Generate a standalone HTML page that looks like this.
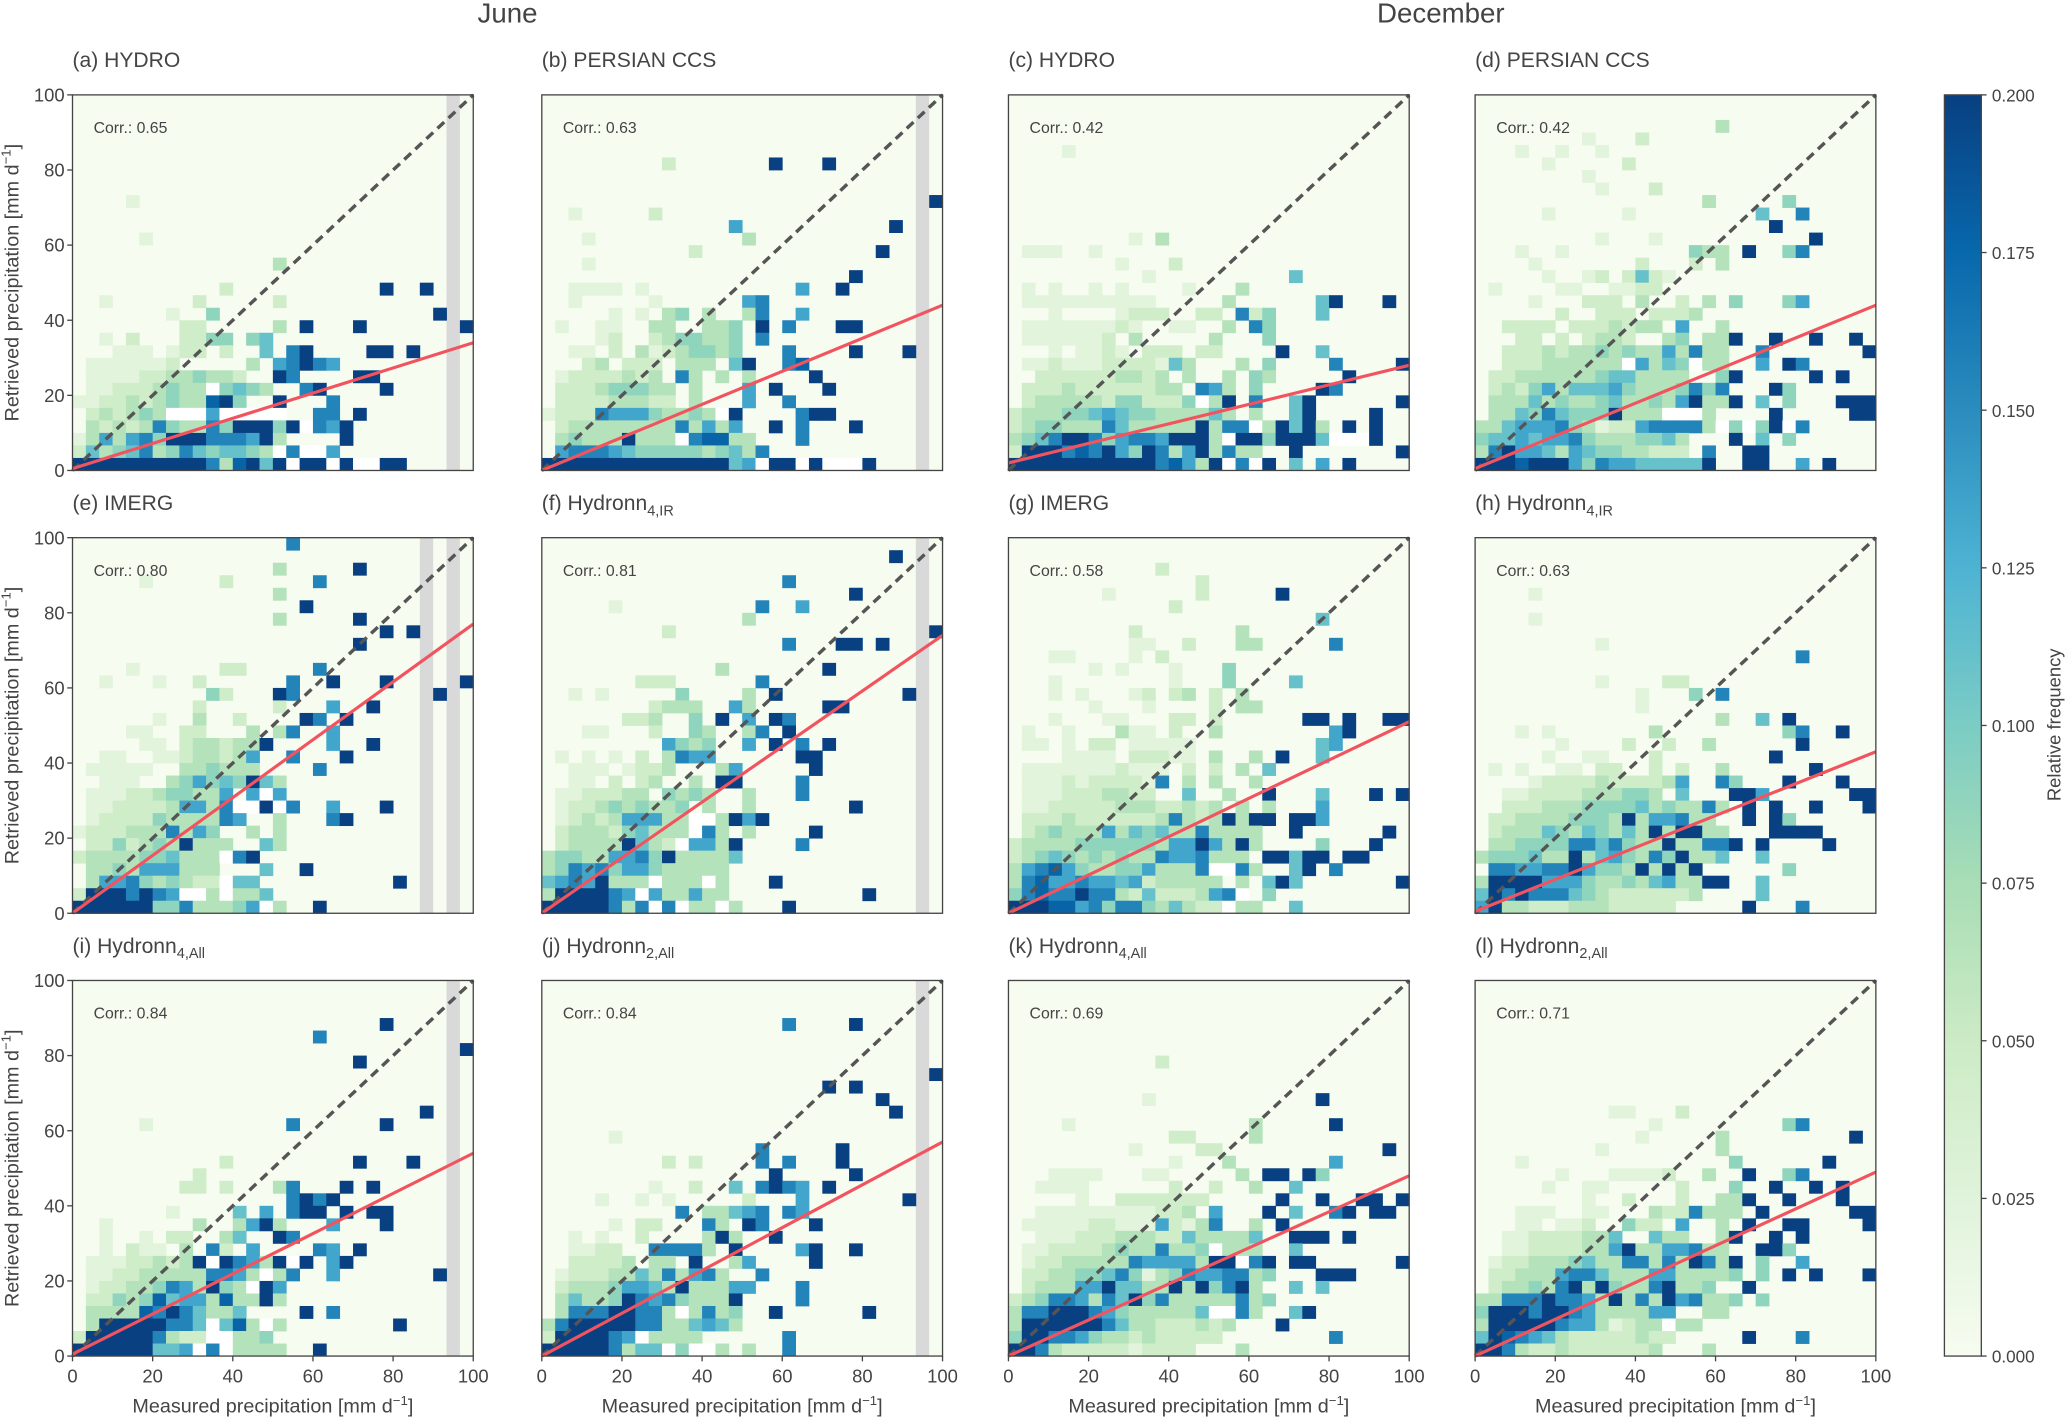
<!DOCTYPE html>
<html><head><meta charset="utf-8"><title>Precipitation retrieval comparison</title>
<style>
html,body{margin:0;padding:0;background:#fff;}
svg{display:block;}
text{font-family:"Liberation Sans Narrow","Liberation Sans",sans-serif;fill:#444;}
</style></head>
<body>
<svg id="fig" width="2067" height="1418" viewBox="0 0 1568 1076" preserveAspectRatio="none" xmlns="http://www.w3.org/2000/svg">
<defs>
<linearGradient id="cbgrad" x1="0" y1="1" x2="0" y2="0">
<stop offset="0" stop-color="#f7fcf0"/><stop offset="0.125" stop-color="#e0f3db"/><stop offset="0.25" stop-color="#ccebc5"/><stop offset="0.375" stop-color="#a8ddb5"/><stop offset="0.5" stop-color="#7bccc4"/><stop offset="0.625" stop-color="#4eb3d3"/><stop offset="0.75" stop-color="#2b8cbe"/><stop offset="0.875" stop-color="#0868ac"/><stop offset="1" stop-color="#084081"/>
</linearGradient>
</defs>
<text x="385" y="17" font-size="21" text-anchor="middle">June</text>
<text x="1093" y="17" font-size="21" text-anchor="middle">December</text>
</svg>
<script>
// ---- data ----
const panelTitles = ["(a) HYDRO","(b) PERSIAN CCS","(c) HYDRO","(d) PERSIAN CCS","(e) IMERG","(f) Hydronn","(g) IMERG","(h) Hydronn","(i) Hydronn","(j) Hydronn","(k) Hydronn","(l) Hydronn"];
const panelSubs = ["","","","","","4,IR","","4,IR","4,All","2,All","4,All","2,All"];
const corrValues = ["0.65","0.63","0.42","0.42","0.80","0.81","0.58","0.63","0.84","0.84","0.69","0.71"];
const fitIntercepts = [0.5,0,2,0.5,0,0,0,0.5,0.5,0,0,0];
const fitAt100 = [34,44,28,44,77,74,51,43,54,57,48,49];
const greyCols = [[28],[28],[],[],[26,28],[28],[],[],[28],[28],[],[]];
const axisTicks = [0,20,40,60,80,100];
const cbTicks = [0,0.025,0.05,0.075,0.1,0.125,0.15,0.175,0.2];
const cbTickLabels = ["0.000","0.025","0.050","0.075","0.100","0.125","0.150","0.175","0.200"];
const levelMax = 9;
const freqMax = 0.2;

const cellsA = ["8:4:1","11:5:1","13:15:3","15:11:2","15:23:9","15:26:9","16:2:1","16:9:2","16:15:2","17:7:1","17:10:4","17:27:9","18:8:22","18:15:3.9","18:21:9","18:29:9","19:2:1.2...2244.45","20:3:111.122.2..5.79","20:22:99.9","21:1:1111112.....3.67976","22:1:111122334332..97","22:21:99","23:0:.112223433w4543..79","23:23:9","24:0:1122323433894..9...7","25:0:.232343www6wwwww..77","25:21:9","26:0:.3232374337499949w769","27:0:1363674999777693","27:20:9","28:0:253457347545543w7ww6","29:0:9999999999738959w99w9ww99"];
const cellsB = ["5:9:2","5:17:9","5:21:9","8:29:9","9:2:1","9:8:2","10:14:6","10:26:9","11:3:1","11:15:3","12:11:2","12:25:9","13:3:1","14:23:9","15:2:1111.1","15:19:6","15:22:9","16:2:1.....1","16:15:67","17:5:1.1.34.3..37..6","18:1:1..11..33..334.9.7...99","19:4:12..2344334.7","20:2:11.2.31234434...7....9...9","21:3:23.222.333.59..78","22:1:12222323.73.3.3....9","23:1:222344433.3...6.9...9","24:1:222233322.3...6..7","25:0:1222766643343w9....799","26:1:233333333736 36..9.7...9".replace(" ",""),"27:1:343339333w78833...7","28:1:6777654444434537","29:0:9999999999999956w99w9www9"];
const cellsC = ["4:4:1","11:9:1.3","12:1:111..1","13:8:1...2","14:10:1","14:21:5","15:1:1.1..1.1....1...3","16:1:1111111111.....3......59...9","17:3:1....1222..22.724...5","18:1:111111121..11..3.74","19:1:1111112.3.....3...4","20:3:1.1121.222.22....9..5","21:1:1121112222153...3.4....7....9","22:2:2222223323.3..3.43.....9","23:1:222322222233.763.4....97","24:1:2333332442224w39.7..59......9","25:0:23334456544333353.3..59....9","26:0:234433375333339377w39593.9.9","27:0:3457997467769993w9949995www9","28:0:2999787964973693733..9","28:29:9","29:0:9999999999978639w7w9.5.6.9"];
const cellsD = ["2:18:3","3:8:1...2","4:3:1..1..1","5:5:1.....2","6:8:1","7:9:1...2","8:17:3.....4","9:5:1.....1.........5..7","10:22:9","11:9:1...1...........9","12:3:1..1.........433.9..47","13:4:1.......2...2.3","14:5:1..12.2521","15:1:1....11..1122","16:4:1...222.3..2.3.4...46","17:6:2..222.2223","18:2:2222.2223233.6..3","19:3:22.2.2332..34.339..9..9..9","20:2:22232334343363733..7.......9","21:2:222333333w6354w33..6.97","22:1:223333334553333..49.....9.9","23:1:232463555643334747...94","24:1:3335343345334369339.5.4...999","25:1:3354754449333www3....9.....99","26:0:335666743122677773w4w49w7","27:0:4556566743334453...9.5.4","28:0:3796653654433222.7..99","29:0:999899964766555559..99..6.9"];
const cellsE = ["0:16:7","2:15:3.....9","3:5:1.....2......7","4:15:3","5:17:9","6:15:3.....9","7:23:9.9","8:21:9","10:4:1......22.....7","11:2:1...1..2......7..9...9.....9","12:10:42...97..........9","13:9:2.....2...6..9","14:6:1..3..2....97.9","15:4:11..22...3.37..6","16:5:11.2332339....6..9","17:2:11..11233236..7...9","18:1:11111..334333....7","19:2:111..346454953","20:1:11122344336.6w6","21:1:11222236637ww9w7..6...9","22:1:122224333376..3...79","23:0:12223337364..3.3","24:1:22423439333..53","25:0:23333445333w79","26:1:3343666333...5..9","27:1:3667434322w55..........9","28:0:29997976ww3w335","29:0:99999944733346w3..9"];
const cellsF = ["1:26:9","3:18:7","4:23:9","5:5:1..........7..6","6:15:3","7:9:2...................9","8:18:7...99.9","10:13:3.......9","11:7:222......7","12:2:1.1.....4....3.9.........9","13:8:2333..63.....99","14:6:223..4.9.6.97","15:3:11...2..43..37.9","16:9:6434..6.9.7.9","17:1:1.1.1.2.3766......99","18:2:111.1223...36.....9","19:2:11.2.23..3.99....7","20:1:1122233.4343..3...7","21:1:1223434334.3..3.......9","22:1:1232366633ww3969","23:1:2333245333w73.3....9","24:1:233339532w6639....7","25:0:344336674933335","26:0:34767466433333","27:0:56769333w333w3...9","28:0:3999976w633633","28:24:9","29:0:99999737w7w33w3...9"];
const cellsG = ["2:11:2","3:14:2","4:7:1......2.....9","5:12:2","6:23:5","7:9:2.......3","8:9:11..2...33.....7","9:3:11....1.2","10:6:1.1...1...4","11:3:1........1...4....5","12:3:1.1...12.23.2.3","13:6:1...1....2.33","14:3:1...11...22.2......99.9..99","15:1:1..1...311.2..3........69","16:1:11.1.22.11111.........56","17:4:1111.22211.3..3.9..5","18:1:11111112111.2.2.3.5","19:1:11121222217.3.3..3","20:1:1112223322..5..3..9...5...9.9","21:1:112222233322323.3.3...6","22:1:2223222222373239399.996","23:1:234333635453373333..9......9","24:0:2333344444436696393....4...9","25:0:234543434337667333.99599.99","26:0:367864334463337ww73..59.7","27:0:3786676656233333.3.595.......9","28:0:47877977325222367w.4","29:0:9998867477435322w33..5"];
const cellsH = ["4:4:1","6:4:1","8:9:1","9:24:7","11:9:1....22","12:12:1...4.7","13:12:1","14:18:3..5.9","15:3:1.1.......3.........47..9","16:6:1....2..2..3......9","17:5:1..11...2........9","18:1:1.1..11.22..2.2..3......9","19:4:122223222236..74...9...9","20:2:112222333443.5...996......99","21:2:22233344445343373.9.9..9...9","22:1:22333344439366733..9.94","23:1:233354354353939933...9999","24:1:3344447757433933779.9....9","25:0:3444533935643749335..5","26:1:7766779644393939......4","27:0:3999966643343563399..5","28:0:59797775432222223....5","29:0:693322233322222.....9...7"];
const cellsI = ["3:23:9","4:18:7","5:29:9","6:21:9","10:26:9","11:5:1..........7......9","14:11:2.........9...9","15:9:2","16:8:22.2...37...9.9","17:16:7979","18:7:1....5.6.799.9.99","19:2:1......3..3693...6...9","20:2:1..1.22..35..97","21:2:1.211.3.72.6....76.9","22:1:111223239w97639w9.69","23:1:1122333337763w37..6.......9","24:1:122334763943w96","25:1:224348566383393","26:1:333387975335....9.7","27:1:399999775w583w3","27:24:9","28:0:2999997322ww334","29:0:999999556w7w3333..9"];
const cellsJ = ["3:18:7....9","7:29:9","8:21:9.9","9:25:9","10:26:9","12:5:1","13:16:7.....9","14:9:2.2....7.7...9","15:17:9.....9","16:8:1..2..5.7976.9","17:4:1..1.1.....2...6.......9","18:10:7.33567.76","19:5:1.22...73.97...9","20:2:1.1..2....393..9","21:2:1122..77773.9....69..9","22:2:22223.33.9..36....9","23:1:1222335373673..7","24:1:233346653933366...7","25:1:35334976743339....7","26:1:377799773w3734..9......9","27:0:379999977335653","28:0:2999976w3333......7","29:0:999997355w4ww3.3..7"];
const cellsK = ["6:11:2","9:10:1............9","11:4:1.............3.....9","12:12:22....3","13:9:1....22............9","14:12:1...3.......6","15:3:1111...11.....3.99.94","16:2:1111......2..2..3..5","17:5:1..2222222.....9..9..99.9","18:2:111111111223.6...9.5..79.99","19:1:111112211162137..3.9","20:2:11122233322533335..999.9","21:1:11222234337334w333..5","22:1:1223333376666399w79.99......9","23:1:2233445741347667734...999","24:1:233366955339394793..5.5","25:0:23477637594733333734","26:0:377999764333335ww73..59","27:0:39999997533222323...9","28:0:4997764332322222........7","29:0:99732222212222...3"];
const cellsL = ["10:10:11...2","11:13:1.........47","12:12:1.....3.........9","13:9:1........3","14:3:1...............4......9","15:6:1...11112..3..9..47","16:5:1..11.....2...4..9..9.9","17:8:1..2...2..339..9...9","18:3:111..11...3227333.9......99","19:3:11.112..422.6..3.9..99....9","20:2:112222335..533..39..9.9","21:2:11222233693366733..994","22:1:1223334533773739739.4..6","23:1:2233367753336633334.4.9.9...9","24:1:2334379394337933 4..9".replace(" ",""),"25:0:33777977639373967334.4","26:0:499979976333366..33","27:0:39999976631233w33","28:0:598765322222322.....9...7","29:0:99732232222223...3"];
const cellSets = [cellsA,cellsB,cellsC,cellsD,cellsE,cellsF,cellsG,cellsH,cellsI,cellsJ,cellsK,cellsL];
const nBins = 30;

// ---- layout ----
const colLeft = [55, 411, 765, 1119];
const rowTop = [72, 408, 744];
const PW = 304, PH = 285;
const NS = "http://www.w3.org/2000/svg";
const svg = document.getElementById('fig');
const gnbu = ["#f7fcf0","#e0f3db","#ccebc5","#a8ddb5","#7bccc4","#4eb3d3","#2b8cbe","#0868ac","#084081"];
function hex2rgb(h){return [parseInt(h.slice(1,3),16),parseInt(h.slice(3,5),16),parseInt(h.slice(5,7),16)];}
function cmap(t){
  t=Math.max(0,Math.min(1,t));
  const p=t*(gnbu.length-1); const i=Math.min(gnbu.length-2,Math.floor(p)); const f=p-i;
  const a=hex2rgb(gnbu[i]), b=hex2rgb(gnbu[i+1]);
  return "rgb("+a.map((v,k)=>Math.round(v+(b[k]-v)*f)).join(",")+")";
}
function el(tag, attrs, parent){
  const e=document.createElementNS(NS,tag);
  for(const k in attrs) e.setAttribute(k,attrs[k]);
  (parent||svg).appendChild(e); return e;
}

for(let p=0;p<12;p++){
  const r=Math.floor(p/4), c=p%4;
  const L=colLeft[c], T=rowTop[r];
  const xS=v=>L+v/100*PW;
  const yS=v=>T+PH-v/100*PH;
  const g=el('g',{});
  
  
  const bg=el('rect',{x:L,y:T,width:PW,height:PH,fill:'#f7fcf0'},g);
  
  
  const bw=100/nBins;
  greyCols[p].forEach(gc=>{
    const gr=el('rect',{x:xS(gc*bw),y:T,width:xS((gc+1)*bw)-xS(gc*bw),height:PH,fill:'#d9d9d9'},g);
    
    
  });
  cellSets[p].forEach(entry=>{
    const parts=entry.split(':');
    const row=+parts[0], c0=+parts[1], s=parts[2];
    for(let k=0;k<s.length;k++){
      const ch=s[k]; if(ch==='.') continue;
      const col=c0+k; const ybin=nBins-1-row;
      let fill;
      if(ch==='w') fill='#ffffff';
      else { const val=(+ch)/levelMax*freqMax; fill=cmap(val/freqMax); }
      const x0=xS(col*bw), x1=xS((col+1)*bw), y1=yS(ybin*bw), y0=yS((ybin+1)*bw);
      const rc=el('rect',{x:x0,y:y0,width:x1-x0+0.3,height:y1-y0+0.3,fill:fill},g);
      
      
    }
  });
  const d=el('line',{x1:xS(0),y1:yS(0),x2:xS(100),y2:yS(100),stroke:'#555','stroke-width':2.6,'stroke-dasharray':'7,4.5'},g);
  
  
  const fl=el('line',{x1:xS(0),y1:yS(fitIntercepts[p]),x2:xS(100),y2:yS(fitAt100[p]),stroke:'#f2545f','stroke-width':2.4},g);
  
  
  const fr=el('rect',{x:L,y:T,width:PW,height:PH,fill:'none',stroke:'#444','stroke-width':1},g);
  
  
  const ct=el('text',{x:L+16,y:T+29,'font-size':12},g);
  ct.textContent='Corr.:  '+corrValues[p];
  
  
  const tt=el('text',{x:L,y:T-21,'font-size':16},g);
  
  
  tt.appendChild(document.createTextNode(panelTitles[p]));
  if(panelSubs[p]){
    const ts=el('tspan',{'font-size':11,dy:4},tt);
    ts.textContent=panelSubs[p];
  }
  if(c===0){
    axisTicks.forEach(v=>{
      const tl=el('line',{x1:L-4,x2:L,y1:yS(v),y2:yS(v),stroke:'#444','stroke-width':1},g);
      
      
      const tx=el('text',{x:L-6,y:yS(v)+5,'font-size':14,'text-anchor':'end'},g);
      tx.textContent=v;
      
      
    });
    const yt=el('text',{x:0,y:0,'font-size':15,'text-anchor':'middle',transform:'translate(14,'+(T+PH/2)+') rotate(-90)'},g);
    yt.textContent='Retrieved precipitation [mm d';
    const sup=el('tspan',{'font-size':10,dy:-6},yt); sup.textContent='−1';
    const cl=el('tspan',{dy:6},yt); cl.textContent=']';
    
    
  }
  if(r===2){
    axisTicks.forEach(v=>{
      const tl=el('line',{x1:xS(v),x2:xS(v),y1:T+PH,y2:T+PH+4,stroke:'#444','stroke-width':1},g);
      
      
      const tx=el('text',{x:xS(v),y:T+PH+20,'font-size':14,'text-anchor':'middle'},g);
      tx.textContent=v;
      
      
    });
    const xt=el('text',{x:L+PW/2,y:T+PH+43,'font-size':15,'text-anchor':'middle'},g);
    xt.textContent='Measured precipitation [mm d';
    const sup=el('tspan',{'font-size':10,dy:-6},xt); sup.textContent='−1';
    const cl=el('tspan',{dy:6},xt); cl.textContent=']';
    
    
  }
}

// colorbar
const cbX=1475, cbW=28, cbT=72, cbB=1029;
const cbG=el('g',{});


const cbR=el('rect',{x:cbX,y:cbT,width:cbW,height:cbB-cbT,fill:'url(#cbgrad)',stroke:'#444','stroke-width':1},cbG);


const cbY=v=>cbB-(v/freqMax)*(cbB-cbT);
cbTicks.forEach((v,i)=>{
  const tl=el('line',{x1:cbX+cbW,x2:cbX+cbW+4,y1:cbY(v),y2:cbY(v),stroke:'#444','stroke-width':1},cbG);
  
  
  const tx=el('text',{x:cbX+cbW+8,y:cbY(v)+5,'font-size':13},cbG);
  tx.textContent=cbTickLabels[i];
  
  
});
const cbt=el('text',{x:0,y:0,'font-size':14,'text-anchor':'middle',transform:'translate(1563,550) rotate(-90)'},cbG);
cbt.textContent='Relative frequency';


</script>
</body></html>
